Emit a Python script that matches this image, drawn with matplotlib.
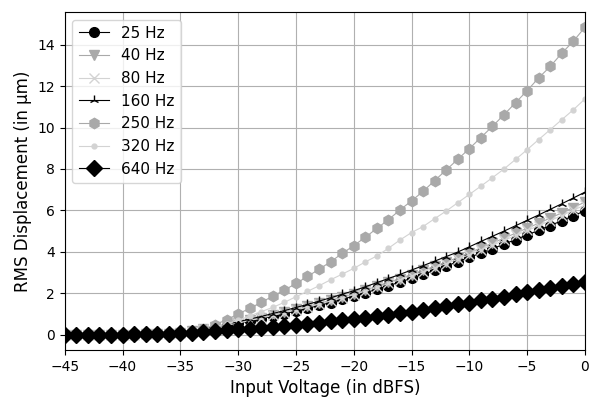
import numpy as np
import matplotlib
matplotlib.use('Agg')
import matplotlib.pyplot as plt

# input level in dBFS, 1 dB steps
dbfs = list(range(-45, 1))

# RMS displacement (um), listed from -45 dBFS up to 0 dBFS
disp_25 = [0.00, 0.00, 0.00, 0.00, 0.00, 0.00, 0.00, 0.01, 0.02, 0.04,
           0.08, 0.15, 0.24, 0.34, 0.44, 0.55, 0.66, 0.77, 0.89, 1.01,
           1.14, 1.27, 1.41, 1.55, 1.70, 1.86, 2.02, 2.19, 2.36, 2.54,
           2.72, 2.91, 3.11, 3.30, 3.53, 3.73, 3.94, 4.15, 4.37, 4.59,
           4.81, 5.04, 5.27, 5.50, 5.74, 5.98]
disp_40 = [0.00, 0.00, 0.00, 0.00, 0.00, 0.00, 0.00, 0.01, 0.02, 0.04,
           0.08, 0.16, 0.25, 0.36, 0.47, 0.58, 0.70, 0.82, 0.95, 1.08,
           1.22, 1.36, 1.51, 1.66, 1.81, 1.97, 2.15, 2.33, 2.52, 2.71,
           2.90, 3.10, 3.30, 3.51, 3.72, 3.95, 4.19, 4.42, 4.66, 4.90,
           5.14, 5.38, 5.63, 5.88, 6.14, 6.40]
disp_80 = [0.00, 0.00, 0.00, 0.00, 0.00, 0.00, 0.00, 0.01, 0.02, 0.04,
           0.08, 0.15, 0.25, 0.35, 0.46, 0.56, 0.68, 0.80, 0.93, 1.06,
           1.19, 1.33, 1.47, 1.62, 1.77, 1.93, 2.10, 2.28, 2.47, 2.65,
           2.84, 3.03, 3.23, 3.43, 3.64, 3.86, 4.10, 4.32, 4.55, 4.79,
           5.03, 5.26, 5.51, 5.75, 6.01, 6.26]
disp_160 = [0.00, 0.00, 0.00, 0.00, 0.00, 0.00, 0.00, 0.01, 0.02, 0.04,
            0.09, 0.17, 0.27, 0.38, 0.50, 0.62, 0.75, 0.88, 1.02, 1.16,
            1.31, 1.46, 1.62, 1.78, 1.95, 2.12, 2.31, 2.51, 2.71, 2.91,
            3.12, 3.33, 3.55, 3.77, 3.99, 4.24, 4.50, 4.75, 5.00, 5.26,
            5.52, 5.78, 6.05, 6.32, 6.60, 6.88]
disp_250 = [0.00, 0.00, 0.00, 0.00, 0.00, 0.00, 0.00, 0.00, 0.01, 0.02,
            0.05, 0.12, 0.27, 0.48, 0.72, 1.00, 1.27, 1.56, 1.86, 2.15,
            2.47, 2.81, 3.16, 3.52, 3.92, 4.30, 4.70, 5.13, 5.55, 6.02,
            6.46, 6.92, 7.44, 7.95, 8.47, 8.98, 9.52, 10.06, 10.62, 11.20,
            11.78, 12.40, 12.95, 13.59, 14.17, 14.84]
disp_320 = [0.00, 0.00, 0.00, 0.00, 0.00, 0.00, 0.00, 0.00, 0.01, 0.02,
            0.05, 0.12, 0.22, 0.36, 0.52, 0.69, 0.90, 1.11, 1.32, 1.56,
            1.83, 2.09, 2.36, 2.65, 2.92, 3.20, 3.51, 3.80, 4.17, 4.57,
            4.93, 5.22, 5.60, 5.97, 6.37, 6.77, 7.17, 7.58, 8.00, 8.46,
            8.93, 9.42, 9.90, 10.38, 10.86, 11.38]
disp_640 = [0.00, 0.00, 0.00, 0.00, 0.00, 0.00, 0.01, 0.02, 0.03, 0.05,
            0.07, 0.10, 0.14, 0.17, 0.21, 0.25, 0.29, 0.33, 0.38, 0.43,
            0.48, 0.53, 0.58, 0.64, 0.70, 0.76, 0.82, 0.89, 0.96, 1.03,
            1.11, 1.19, 1.28, 1.37, 1.46, 1.55, 1.65, 1.74, 1.84, 1.94,
            2.04, 2.14, 2.24, 2.34, 2.43, 2.52]

labels = ['25 Hz', '40 Hz', '80 Hz', '160 Hz', '250 Hz', '320 Hz', '640 Hz']
series = [disp_25, disp_40, disp_80, disp_160, disp_250, disp_320, disp_640]
markers = ['o', 'v', 'x', '2', 'h', '.', 'D']
msizes = [7, 7, 7, 7, 7.5, 7, 8.5]
colours = ['black', 'darkgray', 'lightgray', 'black', 'darkgray',
           'lightgray', 'black']

fig = plt.figure(figsize=(5.89, 4.0), dpi=100)
ax = fig.add_axes([0.110, 0.125, 0.883, 0.845])

for ys, lab, mk, sz, col in zip(series, labels, markers, msizes, colours):
    ax.plot(dbfs, ys, marker=mk, color=col, label=lab, lw=0.8, ms=sz)

ax.set_xlim(-45, 0)
ax.set_xlabel('Input Voltage (in dBFS)', fontsize=12)
ax.set_ylabel('RMS Displacement (in \u00b5m)', fontsize=12)
ax.tick_params(labelsize=10)
ax.grid(True)
ax.legend(loc='upper left', fontsize=11)

fig.savefig('out.png', dpi=100)
